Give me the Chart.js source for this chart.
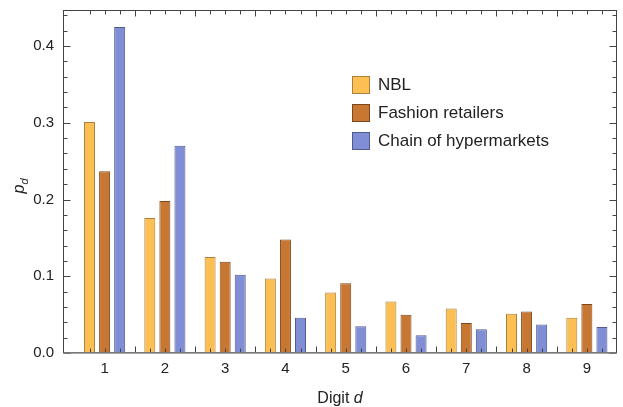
<!DOCTYPE html>
<html>
<head>
<meta charset="utf-8">
<script src="https://cdn.jsdelivr.net/npm/chart.js@4"></script>
<style>
html, body { margin: 0; padding: 0; background: #fff; }
</style>
</head>
<body>
<canvas id="myChart" width="623" height="407"></canvas>
<script>
const digits = [1, 2, 3, 4, 5, 6, 7, 8, 9];
const seriesNames = ["NBL", "Fashion retailers", "Chain of hypermarkets"];
const nbl = [0.301, 0.176, 0.125, 0.097, 0.079, 0.067, 0.058, 0.051, 0.046];
const fashion = [0.237, 0.198, 0.119, 0.148, 0.091, 0.050, 0.039, 0.054, 0.064];
const hyper = [0.425, 0.270, 0.102, 0.046, 0.035, 0.023, 0.031, 0.037, 0.034];
const yTicks = [0, 0.1, 0.2, 0.3, 0.4];

const fills = ["rgb(251, 191, 84)", "rgb(200, 119, 50)", "rgb(127, 142, 213)"];
const edges = ["rgb(170, 128, 60)", "rgb(125, 72, 30)", "rgb(80, 90, 140)"];
const font = "'Liberation Sans', Arial, sans-serif";

function pts(vals) {
    return digits.map((d, i) => ({ x: d, y: vals[i] }));
}

const data = {
    datasets: [nbl, fashion, hyper].map((vals, i) => ({
        label: seriesNames[i],
        data: pts(vals),
        backgroundColor: fills[i],
        borderColor: edges[i],
        borderWidth: 1,
        borderSkipped: false,
        categoryPercentage: 0.75,
        barPercentage: 0.73
    }))
};

// frame, inward ticks, axis titles and legend (Mathematica look)
const decor = {
    id: "decor",
    afterDatasetsDraw(chart) {
        const ctx = chart.ctx;
        const ca = chart.chartArea;
        const xs = chart.scales.x;
        const ys = chart.scales.y;
        const L = Math.round(ca.left) + 0.5, R = Math.round(ca.right) - 0.5;
        const T = Math.round(ca.top) + 0.5, B = Math.round(ca.bottom) - 0.5;
        ctx.save();
        ctx.strokeStyle = "#444";
        ctx.lineWidth = 1;
        ctx.beginPath();
        // y ticks, major and minor, left and right
        for (let i = 0; i <= 22; i++) {
            const v = i * 0.02;
            const py = Math.round(ys.getPixelForValue(v)) + 0.5;
            const len = i % 5 === 0 ? 7 : 4;
            ctx.moveTo(L, py); ctx.lineTo(L + len, py);
            ctx.moveTo(R, py); ctx.lineTo(R - len, py);
        }
        // x ticks at bar centres and group separators, bottom and top
        chart.data.datasets.forEach((ds, i) => {
            chart.getDatasetMeta(i).data.forEach(bar => {
                const px = Math.round(bar.x) + 0.5;
                ctx.moveTo(px, B); ctx.lineTo(px, B - 4);
                ctx.moveTo(px, T); ctx.lineTo(px, T + 4);
            });
        });
        digits.slice(0, -1).forEach(d => {
            const px = Math.round(xs.getPixelForValue(d + 0.5)) + 0.5;
            ctx.moveTo(px, B); ctx.lineTo(px, B - 6);
            ctx.moveTo(px, T); ctx.lineTo(px, T + 6);
        });
        ctx.stroke();
        ctx.strokeRect(L, T, R - L, B - T);
        // axis at zero
        ctx.strokeStyle = "#8a8a8a";
        ctx.lineWidth = 1.5;
        const y0 = ys.getPixelForValue(0);
        ctx.beginPath();
        ctx.moveTo(L, y0); ctx.lineTo(R, y0);
        ctx.stroke();
        ctx.restore();
    },
    afterDraw(chart) {
        const ctx = chart.ctx;
        const ca = chart.chartArea;
        ctx.save();
        ctx.fillStyle = "#222";
        ctx.textBaseline = "middle";
        // x title "Digit d"
        const cx = (ca.left + ca.right) / 2;
        ctx.font = "16px " + font;
        const w1 = ctx.measureText("Digit ").width;
        ctx.font = "italic 16px " + font;
        const w2 = ctx.measureText("d").width;
        let x0 = cx - (w1 + w2) / 2;
        ctx.textAlign = "left";
        ctx.font = "16px " + font;
        ctx.fillText("Digit ", x0, 399);
        ctx.font = "italic 16px " + font;
        ctx.fillText("d", x0 + w1, 399);
        // y title p_d
        ctx.translate(20, 186);
        ctx.rotate(-Math.PI / 2);
        ctx.font = "italic 16px " + font;
        const wp = ctx.measureText("p").width;
        ctx.font = "italic 11px " + font;
        const wd = ctx.measureText("d").width;
        ctx.font = "italic 16px " + font;
        ctx.fillText("p", -(wp + wd) / 2, 0);
        ctx.font = "italic 11px " + font;
        ctx.fillText("d", -(wp + wd) / 2 + wp, 5);
        ctx.setTransform(1, 0, 0, 1, 0, 0);
        // legend
        ctx.font = "17px " + font;
        seriesNames.forEach((name, i) => {
            const yc = 85 + i * 28;
            ctx.fillStyle = fills[i];
            ctx.fillRect(352, yc - 9, 18, 18);
            ctx.strokeStyle = edges[i];
            ctx.lineWidth = 1;
            ctx.strokeRect(352.5, yc - 8.5, 17, 17);
            ctx.fillStyle = "#222";
            ctx.fillText(name, 378, yc);
        });
        ctx.restore();
    }
};

function noPad(s) {
    s.paddingTop = 0;
    s.paddingBottom = 0;
}

const config = {
    type: "bar",
    data: data,
    options: {
        responsive: false,
        animation: false,
        layout: { padding: { top: 10, right: 6, left: 0, bottom: 0 } },
        plugins: {
            legend: { display: false },
            tooltip: { enabled: false }
        },
        scales: {
            x: {
                type: "linear",
                min: 0.31,
                max: 9.5,
                offset: false,
                afterBuildTicks: s => { s.ticks = digits.map(v => ({ value: v })); },
                afterFit: s => { s.height = 54; noPad(s); },
                grid: { display: false, drawTicks: false },
                border: { display: false },
                ticks: {
                    color: "#222",
                    padding: 7,
                    maxRotation: 0,
                    autoSkip: false,
                    font: { family: font, size: 15 },
                    callback: v => String(v)
                }
            },
            y: {
                min: 0,
                max: 0.447,
                afterBuildTicks: s => { s.ticks = yTicks.map(v => ({ value: v })); },
                afterFit: s => { s.width = 63; noPad(s); },
                grid: { display: false, drawTicks: false },
                border: { display: false },
                ticks: {
                    color: "#222",
                    padding: 9,
                    font: { family: font, size: 15 },
                    callback: v => v.toFixed(1)
                }
            }
        }
    },
    plugins: [decor]
};

const myChart = new Chart(document.getElementById("myChart"), config);
</script>
</body>
</html>
